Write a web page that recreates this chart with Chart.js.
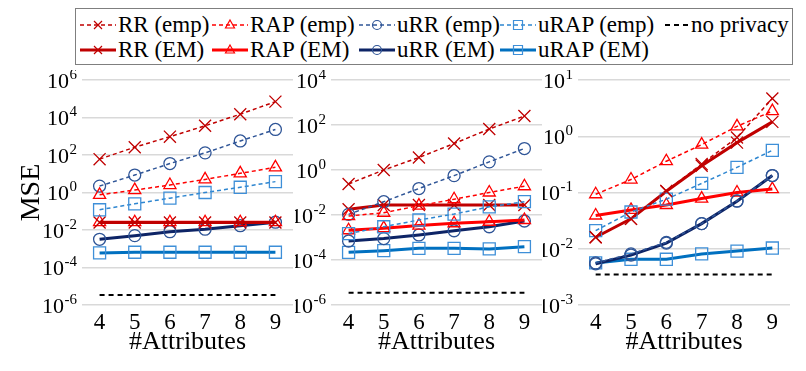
<!DOCTYPE html>
<html>
<head>
<meta charset="utf-8">
<script src="https://cdn.jsdelivr.net/npm/chart.js@4.4.1/dist/chart.umd.min.js"></script>
<style>
  body { margin: 0; background: #fff; width: 806px; height: 371px; overflow: hidden; position: relative;
         font-family: 'Liberation Serif', 'Times New Roman', serif; }
  .panel { position: absolute; top: 70px; height: 301px; }
  #legend { position: absolute; left: 75px; top: 8px; width: 716px; height: 55px; border: 1px solid #7f7f7f; background: #fff; }
  .item { position: absolute; display: flex; align-items: center; font-size: 23px; color: #000; white-space: nowrap; line-height: 22px; }
  .item canvas { margin-right: 2px; }
</style>
</head>
<body>
<div id="legend"></div>
<div class="panel" style="left:0;width:303px"><canvas id="c1"></canvas></div>
<div class="panel" style="left:295px;width:257px"><canvas id="c2"></canvas></div>
<div class="panel" style="left:543px;width:263px"><canvas id="c3"></canvas></div>
<script>
const attributes = ['4', '5', '6', '7', '8', '9'];

// left panel
const rrEmp1   = [60, 260, 950, 3600, 15000, 70000];
const rapEmp1  = [0.75, 1.35, 2.5, 5, 10.5, 22];
const urrEmp1  = [2.2, 8.5, 35, 130, 560, 2300];
const urapEmp1 = [0.12, 0.25, 0.5, 1.0, 1.9, 3.8];
const rrEm1    = [0.025, 0.025, 0.025, 0.025, 0.025, 0.025];
const rapEm1   = [0.026, 0.026, 0.026, 0.026, 0.026, 0.026];
const urrEm1   = [0.0032, 0.005, 0.0081, 0.011, 0.017, 0.026];
const urapEm1  = [0.0006, 0.00065, 0.00065, 0.00065, 0.00065, 0.00065];
const noPriv1  = [3.4e-6, 3.4e-6, 3.4e-6, 3.4e-6, 3.4e-6, 3.4e-6];

// middle panel
const rrEmp2   = [0.24, 1, 3.6, 15, 66, 250];
const rapEmp2  = [0.009, 0.0126, 0.026, 0.05, 0.1, 0.19];
const urrEmp2  = [0.0107, 0.039, 0.15, 0.56, 2.3, 9];
const urapEmp2 = [0.0015, 0.003, 0.006, 0.011, 0.023, 0.039];
const rrEm2    = [0.018, 0.028, 0.028, 0.028, 0.028, 0.028];
const rapEm2   = [0.0021, 0.0026, 0.0034, 0.0043, 0.005, 0.006];
const urrEm2   = [0.0007, 0.0009, 0.0013, 0.002, 0.003, 0.0054];
const urapEm2  = [0.00022, 0.00026, 0.00033, 0.00033, 0.00031, 0.00039];
const noPriv2  = [3.5e-6, 3.5e-6, 3.5e-6, 3.5e-6, 3.5e-6, 3.5e-6];

// right panel
const rrEmp3   = [0.016, 0.034, 0.107, 0.32, 0.95, 4.7];
const rapEmp3  = [0.093, 0.17, 0.36, 0.71, 1.5, 2.8];
const urrEmp3  = [0.0056, 0.0081, 0.013, 0.028, 0.071, 0.2];
const urapEmp3 = [0.021, 0.045, 0.076, 0.145, 0.28, 0.56];
const rrEm3    = [0.016, 0.034, 0.105, 0.3, 0.77, 1.8];
const rapEm3   = [0.039, 0.049, 0.06, 0.078, 0.1, 0.115];
const urrEm3   = [0.0054, 0.0077, 0.0126, 0.028, 0.07, 0.2];
const urapEm3  = [0.0056, 0.0065, 0.0065, 0.0081, 0.0091, 0.0103];
const noPriv3  = [0.0035, 0.0035, 0.0035, 0.0035, 0.0035, 0.0035];

// y tick values (labels are 10 with the exponent raised)
const yTicks1 = [1e-6, 1e-4, 1e-2, 1, 1e2, 1e4, 1e6];
const yTicks2 = [1e-6, 1e-4, 1e-2, 1, 1e2, 1e4];
const yTicks3 = [1e-3, 1e-2, 1e-1, 1, 10];

const seriesNames = ['RR (emp)', 'RAP (emp)', 'uRR (emp)', 'uRAP (emp)', 'no privacy',
                     'RR (EM)', 'RAP (EM)', 'uRR (EM)', 'uRAP (EM)'];

// line look for each series, same order as seriesNames
const looks = [
  { line: '#C00000', mark: '#C00000', dash: [4, 3], w: 1.5, style: 'crossRot', r: 8.5 },
  { line: '#FF0000', mark: '#FF0000', dash: [4, 3], w: 1.5, style: 'triangle', r: 7 },
  { line: '#2F5597', mark: '#2F5597', dash: [4, 3], w: 1.5, style: 'circle', r: 6 },
  { line: '#2E86D0', mark: '#3E8FD8', dash: [4, 3], w: 1.5, style: 'rect', r: 8.5 },
  { line: '#000000', mark: '#000000', dash: [5, 4], w: 2, style: false, r: 0 },
  { line: '#C00000', mark: '#C00000', dash: [], w: 3, style: 'crossRot', r: 8.5 },
  { line: '#FF0000', mark: '#FF0000', dash: [], w: 3, style: 'triangle', r: 7 },
  { line: '#0D2466', mark: '#2F5597', dash: [], w: 3, style: 'circle', r: 6 },
  { line: '#0070C0', mark: '#3E8FD8', dash: [], w: 3, style: 'rect', r: 8.5 }
];

const FONT = "'Liberation Serif', 'Times New Roman', serif";
Chart.defaults.font.family = FONT;
Chart.defaults.color = '#000';

// draws "10" with a raised exponent next to each y tick
const powerLabels = {
  id: 'powerLabels',
  afterDraw(chart) {
    const s = chart.scales.y;
    const ctx = chart.ctx;
    const xr = chart.chartArea.left - 5;
    ctx.save();
    ctx.fillStyle = '#000';
    ctx.textBaseline = 'middle';
    s.ticks.forEach(t => {
      const y = s.getPixelForValue(t.value);
      const e = String(Math.round(Math.log10(t.value)));
      ctx.font = '15px ' + FONT;
      const we = ctx.measureText(e).width;
      ctx.textAlign = 'left';
      ctx.fillText(e, xr - we, y - 5);
      ctx.font = '22px ' + FONT;
      ctx.textAlign = 'right';
      ctx.fillText('10', xr - we - 0.5, y + 2);
    });
    ctx.restore();
  }
};

function makeChart(id, values, yTicks, yWidth, padRight, showTitle) {
  const datasets = values.map((vals, i) => {
    const lk = looks[i];
    return {
      label: seriesNames[i],
      data: vals,
      borderColor: lk.line,
      borderWidth: lk.w,
      borderDash: lk.dash,
      pointStyle: lk.style,
      pointRadius: lk.r,
      pointBorderColor: lk.mark,
      pointBackgroundColor: 'rgba(0,0,0,0)',
      pointBorderWidth: 1.3,
      fill: false,
      tension: 0
    };
  });

  new Chart(document.getElementById(id), {
    type: 'line',
    data: { labels: attributes, datasets: datasets },
    options: {
      responsive: true,
      maintainAspectRatio: false,
      animation: false,
      layout: { padding: { top: 10, right: padRight, left: 0, bottom: 0 } },
      plugins: { legend: { display: false }, tooltip: { enabled: false } },
      scales: {
        x: {
          type: 'category',
          offset: true,
          grid: { display: false, drawTicks: false },
          border: { display: false },
          ticks: { font: { size: 23 }, padding: 4, maxRotation: 0 },
          title: { display: true, text: '#Attributes', font: { size: 26 }, padding: { top: 0, bottom: 13 } },
          afterFit: s => { s.height = 66; }
        },
        y: {
          type: 'logarithmic',
          min: yTicks[0],
          max: yTicks[yTicks.length - 1],
          afterBuildTicks: s => { s.ticks = yTicks.map(v => ({ value: v })); },
          grid: { color: '#d9d9d9', lineWidth: 1.5, drawTicks: false },
          border: { display: false },
          ticks: { display: false },
          title: { display: showTitle, text: 'MSE', font: { size: 28 }, padding: { top: 15, bottom: 0 } },
          afterFit: s => { s.width = yWidth; }
        }
      }
    },
    plugins: [powerLabels]
  });
}

makeChart('c1', [rrEmp1, rapEmp1, urrEmp1, urapEmp1, noPriv1, rrEm1, rapEm1, urrEm1, urapEm1], yTicks1, 82, 10, true);
makeChart('c2', [rrEmp2, rapEmp2, urrEmp2, urapEmp2, noPriv2, rrEm2, rapEm2, urrEm2, urapEm2], yTicks2, 36, 10, false);
makeChart('c3', [rrEmp3, rapEmp3, urrEmp3, urapEmp3, noPriv3, rrEm3, rapEm3, urrEm3, urapEm3], yTicks3, 35, 16, false);

// legend laid out in two rows with aligned columns, like the original figure
const legendSlots = [
  { x: 4, y: 16, w: 36 }, { x: 136, y: 16, w: 36 }, { x: 283, y: 16, w: 36 }, { x: 424, y: 16, w: 36 }, { x: 589, y: 16, w: 24 },
  { x: 4, y: 41, w: 36 }, { x: 136, y: 41, w: 36 }, { x: 283, y: 41, w: 36 }, { x: 424, y: 41, w: 36 }
];

function drawSample(cv, lk) {
  const ctx = cv.getContext('2d');
  const h = cv.height, w = cv.width, cy = h / 2, cx = w / 2;
  ctx.strokeStyle = lk.line;
  ctx.lineWidth = lk.w;
  ctx.setLineDash(lk.dash);
  ctx.beginPath();
  ctx.moveTo(0, cy);
  ctx.lineTo(w, cy);
  ctx.stroke();
  ctx.setLineDash([]);
  ctx.strokeStyle = lk.mark;
  ctx.lineWidth = 1.2;
  ctx.beginPath();
  if (lk.style === 'crossRot') {
    ctx.moveTo(cx - 4, cy - 4); ctx.lineTo(cx + 4, cy + 4);
    ctx.moveTo(cx + 4, cy - 4); ctx.lineTo(cx - 4, cy + 4);
  } else if (lk.style === 'triangle') {
    ctx.moveTo(cx, cy - 5); ctx.lineTo(cx + 4.5, cy + 3); ctx.lineTo(cx - 4.5, cy + 3); ctx.closePath();
  } else if (lk.style === 'circle') {
    ctx.arc(cx, cy, 4.5, 0, Math.PI * 2);
  } else if (lk.style === 'rect') {
    ctx.rect(cx - 4.5, cy - 4.5, 9, 9);
  }
  ctx.stroke();
}

const legend = document.getElementById('legend');
seriesNames.forEach((name, i) => {
  const slot = legendSlots[i];
  const item = document.createElement('div');
  item.className = 'item';
  item.style.left = slot.x + 'px';
  item.style.top = (slot.y - 11) + 'px';
  const cv = document.createElement('canvas');
  cv.width = slot.w;
  cv.height = 22;
  drawSample(cv, looks[i]);
  item.appendChild(cv);
  const label = document.createElement('span');
  label.textContent = name;
  item.appendChild(label);
  legend.appendChild(item);
});
</script>
</body>
</html>
